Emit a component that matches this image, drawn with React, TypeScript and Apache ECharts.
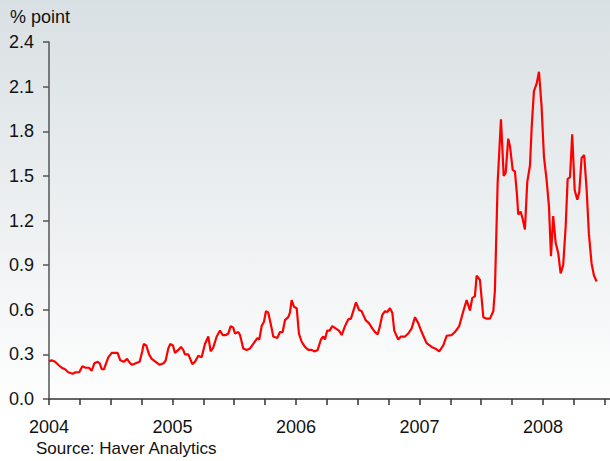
import React, { useEffect, useRef } from "react";
import * as echarts from "echarts";

// Decimal years (time) of each observation
const YEARS: number[] = [
  2004.0, 2004.022, 2004.049, 2004.075, 2004.103, 2004.13, 2004.156, 2004.192, 2004.216, 2004.245,
  2004.27, 2004.297, 2004.324, 2004.346, 2004.367, 2004.394, 2004.411, 2004.427, 2004.445, 2004.48,
  2004.508, 2004.534, 2004.556, 2004.577, 2004.605, 2004.632, 2004.658, 2004.674, 2004.702, 2004.734,
  2004.755, 2004.767, 2004.788, 2004.81, 2004.832, 2004.864, 2004.896, 2004.929, 2004.945, 2004.966,
  2004.982, 2005.004, 2005.02, 2005.047, 2005.069, 2005.087, 2005.101, 2005.128, 2005.161, 2005.182,
  2005.209, 2005.236, 2005.263, 2005.29, 2005.309, 2005.33, 2005.358, 2005.385, 2005.406, 2005.433,
  2005.452, 2005.471, 2005.492, 2005.506, 2005.533, 2005.547, 2005.573, 2005.601, 2005.628, 2005.654,
  2005.687, 2005.703, 2005.722, 2005.741, 2005.757, 2005.776, 2005.803, 2005.816, 2005.849, 2005.87,
  2005.892, 2005.911, 2005.938, 2005.951, 2005.965, 2005.984, 2006.006, 2006.024, 2006.046, 2006.073,
  2006.1, 2006.127, 2006.154, 2006.176, 2006.202, 2006.221, 2006.235, 2006.253, 2006.273, 2006.294,
  2006.321, 2006.348, 2006.37, 2006.397, 2006.423, 2006.445, 2006.486, 2006.51, 2006.532, 2006.564,
  2006.591, 2006.618, 2006.64, 2006.662, 2006.68, 2006.699, 2006.721, 2006.739, 2006.761, 2006.78,
  2006.796, 2006.828, 2006.85, 2006.883, 2006.909, 2006.937, 2006.964, 2006.99, 2007.018, 2007.058,
  2007.099, 2007.126, 2007.16, 2007.193, 2007.22, 2007.261, 2007.287, 2007.322, 2007.355, 2007.382,
  2007.409, 2007.428, 2007.449, 2007.463, 2007.49, 2007.517, 2007.544, 2007.571, 2007.598, 2007.611,
  2007.633, 2007.66, 2007.682, 2007.698, 2007.719, 2007.733, 2007.755, 2007.773, 2007.789, 2007.8,
  2007.819, 2007.836, 2007.854, 2007.873, 2007.895, 2007.909, 2007.927, 2007.949, 2007.968, 2007.989,
  2008.008, 2008.03, 2008.049, 2008.065, 2008.083, 2008.103, 2008.124, 2008.143, 2008.164, 2008.184,
  2008.2, 2008.219, 2008.237, 2008.257, 2008.278, 2008.294, 2008.313, 2008.334, 2008.354, 2008.372,
  2008.394, 2008.413, 2008.435,
];

// Spread, % point
const VALUES: number[] = [
  0.255, 0.26, 0.25, 0.23, 0.21, 0.2, 0.18, 0.17, 0.18, 0.18,
  0.22, 0.21, 0.21, 0.19, 0.24, 0.25, 0.24, 0.2, 0.2, 0.28,
  0.31, 0.31, 0.31, 0.26, 0.25, 0.27, 0.24, 0.23, 0.24, 0.25,
  0.32, 0.37, 0.36, 0.3, 0.27, 0.25, 0.23, 0.24, 0.26, 0.34,
  0.37, 0.36, 0.31, 0.33, 0.35, 0.33, 0.3, 0.3, 0.235, 0.25,
  0.29, 0.28, 0.37, 0.42, 0.32, 0.345, 0.42, 0.46, 0.43, 0.43,
  0.44, 0.49, 0.48, 0.44, 0.45, 0.43, 0.34, 0.33, 0.34, 0.37,
  0.41, 0.4, 0.49, 0.52, 0.59, 0.58, 0.475, 0.42, 0.41, 0.45,
  0.45, 0.53, 0.55, 0.58, 0.665, 0.62, 0.61, 0.44, 0.385, 0.35,
  0.33, 0.33, 0.32, 0.33, 0.4, 0.42, 0.4, 0.46, 0.46, 0.49,
  0.475, 0.46, 0.43, 0.49, 0.535, 0.54, 0.65, 0.6, 0.59, 0.53,
  0.51, 0.475, 0.45, 0.435, 0.49, 0.565, 0.59, 0.585, 0.61, 0.58,
  0.46, 0.4, 0.42, 0.42, 0.44, 0.475, 0.55, 0.51, 0.45, 0.375,
  0.35, 0.34, 0.32, 0.36, 0.425, 0.43, 0.45, 0.49, 0.59, 0.665,
  0.595, 0.68, 0.69, 0.83, 0.8, 0.55, 0.54, 0.54, 0.59, 0.73,
  1.45, 1.88, 1.5, 1.52, 1.75, 1.7, 1.54, 1.53, 1.38, 1.24,
  1.26, 1.21, 1.14, 1.46, 1.57, 1.83, 2.07, 2.12, 2.2, 1.965,
  1.63, 1.47, 1.29, 0.96, 1.23, 1.05, 0.98, 0.845, 0.9, 1.16,
  1.48, 1.49, 1.78, 1.405, 1.34, 1.39, 1.62, 1.64, 1.405, 1.11,
  0.91, 0.83, 0.79,
];

const Y_TICKS: number[] = [0, 0.3, 0.6, 0.9, 1.2, 1.5, 1.8, 2.1, 2.4];
const X_START = 2004;
const X_END = 2008.543;

const FONT = "'Liberation Sans', Arial, sans-serif";

export default function App() {
  const ref = useRef<HTMLDivElement>(null);

  useEffect(() => {
    if (!ref.current) return;
    const chart = echarts.init(ref.current, undefined, { renderer: "svg" });
    const data = YEARS.map((y, i) => [y, VALUES[i]]);
    chart.setOption({
      animation: false,
      backgroundColor: new echarts.graphic.LinearGradient(0, 0, 0, 1, [
        { offset: 0, color: "#d9e0e3" },
        { offset: 0.5, color: "#eef1f2" },
        { offset: 0.9, color: "#ffffff" },
        { offset: 1, color: "#ffffff" },
      ]),
      grid: { left: 49, right: 0, top: 42, bottom: 62, containLabel: false },
      xAxis: {
        type: "value",
        min: X_START,
        max: X_END,
        interval: 0.25,
        axisLine: { show: true, lineStyle: { color: "#333333", width: 1.5 } },
        axisTick: { show: true, inside: false, length: 6, lineStyle: { color: "#333333", width: 1.5 } },
        splitLine: { show: false },
        axisLabel: {
          margin: 19,
          color: "#111111",
          fontSize: 18,
          fontFamily: FONT,
          showMaxLabel: false,
          formatter: (v: number) => (Math.abs(v - Math.round(v)) < 1e-6 ? String(Math.round(v)) : ""),
        },
      },
      yAxis: {
        type: "value",
        min: Y_TICKS[0],
        max: Y_TICKS[Y_TICKS.length - 1],
        interval: 0.3,
        axisLine: { show: true, lineStyle: { color: "#555555", width: 1.5 } },
        axisTick: { show: true, inside: false, length: 6, lineStyle: { color: "#555555", width: 1.5 } },
        splitLine: { show: false },
        axisLabel: {
          margin: 15,
          color: "#111111",
          fontSize: 18,
          fontFamily: FONT,
          formatter: (v: number) => v.toFixed(1),
        },
      },
      graphic: [
        {
          type: "text",
          left: 10,
          top: 8,
          style: { text: "% point", fontSize: 18, fontFamily: FONT, fill: "#111111" },
        },
        {
          type: "text",
          left: 36,
          top: 440,
          style: { text: "Source: Haver Analytics", fontSize: 17, fontFamily: FONT, fill: "#111111" },
        },
      ],
      series: [
        {
          type: "line",
          data,
          showSymbol: false,
          symbol: "none",
          lineStyle: { color: "#ff0000", width: 2.2 },
          clip: true,
        },
      ],
    });
    return () => chart.dispose();
  }, []);

  return <div ref={ref} style={{ width: 610, height: 461, position: "absolute", left: 0, top: 0 }} />;
}
